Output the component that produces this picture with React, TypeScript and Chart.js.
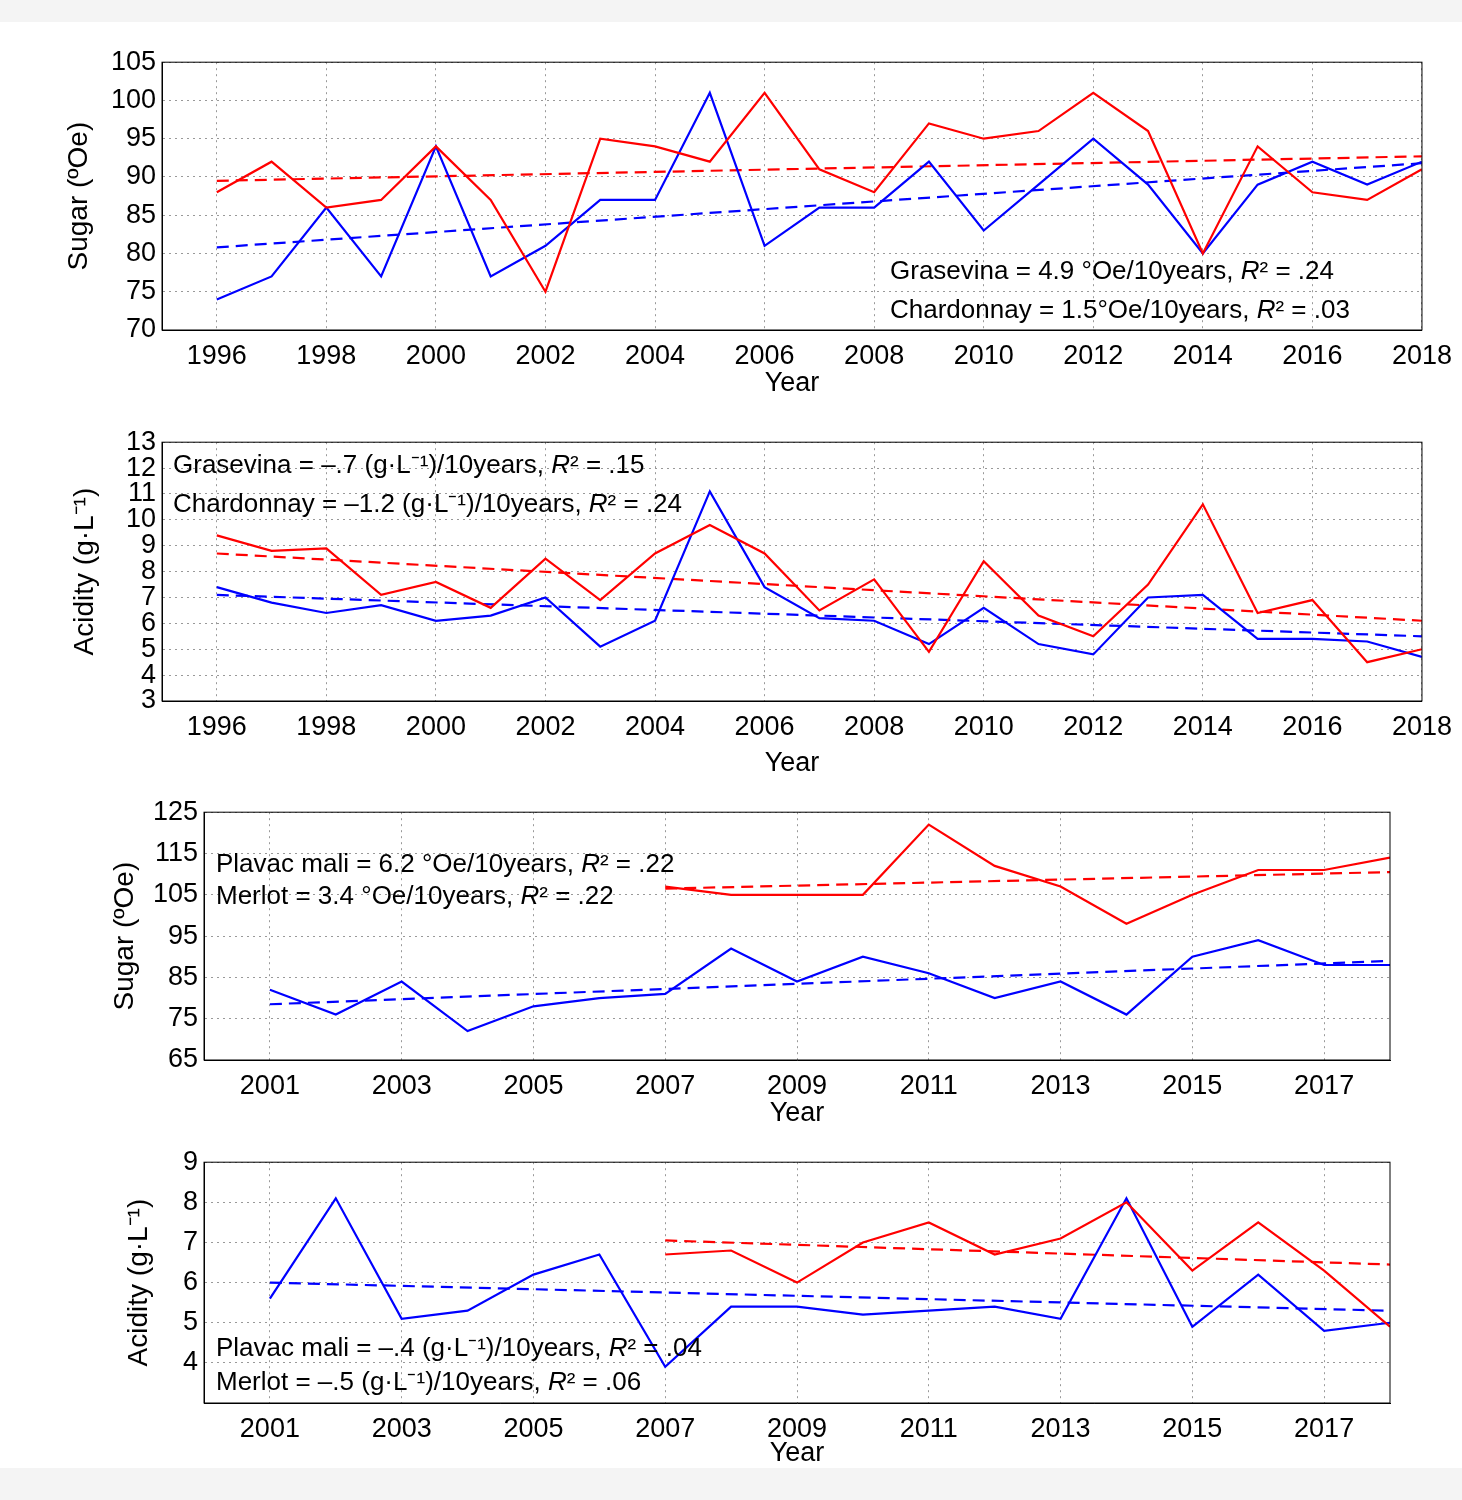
import React, { useEffect, useRef } from "react";
import { Chart, registerables } from "chart.js";
Chart.register(...registerables);

const years1 = [1996,1997,1998,1999,2000,2001,2002,2003,2004,2005,2006,2007,2008,2009,2010,2011,2012,2013,2014,2015,2016,2017,2018];
const sugarGrasevina = [74,77,86,77,94,77,81,87,87,101,81,86,86,92,83,89,95,89,80,89,92,89,92];
const sugarChardonnay = [88,92,86,87,94,87,75,95,94,92,101,91,88,97,95,96,101,96,80,94,88,87,91];
const acidGrasevina = [7.4,6.8,6.4,6.7,6.1,6.3,7.0,5.1,6.1,11.1,7.4,6.2,6.1,5.2,6.6,5.2,4.8,7.0,7.1,5.4,5.4,5.3,4.7];
const acidChardonnay = [9.4,8.8,8.9,7.1,7.6,6.6,8.5,6.9,8.7,9.8,8.7,6.5,7.7,4.9,8.4,6.3,5.5,7.5,10.6,6.4,6.9,4.5,5.0];
const years2 = [2001,2002,2003,2004,2005,2006,2007,2008,2009,2010,2011,2012,2013,2014,2015,2016,2017,2018];
const years3 = [2007,2008,2009,2010,2011,2012,2013,2014,2015,2016,2017,2018];
const sugarPlavac = [82,76,84,72,78,80,81,92,84,90,86,80,84,76,90,94,88,88];
const sugarMerlot = [107,105,105,105,122,112,107,98,105,111,111,114];
const acidPlavac = [5.6,8.1,5.1,5.3,6.2,6.7,3.9,5.4,5.4,5.2,5.3,5.4,5.1,8.1,4.9,6.2,4.8,5.0];
const acidMerlot = [6.7,6.8,6.0,7.0,7.5,6.7,7.1,8.0,6.3,7.5,6.3,4.9];
const trendSugarG = [80.8, 91.8];
const trendSugarC = [89.5, 92.7];
const trendAcidG = [7.1, 5.5];
const trendAcidC = [8.7, 6.1];
const trendSugarP = [78.5, 89];
const trendSugarM = [106.5, 110.5];
const trendAcidP = [6.0, 5.3];
const trendAcidM = [7.05, 6.45];
const ticks1 = [1996,1998,2000,2002,2004,2006,2008,2010,2012,2014,2016,2018];
const ticks2 = [2001,2003,2005,2007,2009,2011,2013,2015,2017];

type Seg = [string, boolean?];
type Panel = {
  top: number; height: number; padLeft: number; yW: number; right: number; padTop: number; xH: number;
  xmin: number; xmax: number; xticks: number[];
  ymin: number; ymax: number; ystep: number; hideMinLabel?: boolean;
  ytitle: string; series: { xs: number[]; ys: number[]; color: string; dash?: boolean }[];
  notes: { x: number; y: number; segs: Seg[] }[];
};

const FONT = "'Liberation Sans', Arial, sans-serif";
const pts = (xs: number[], ys: number[]) => xs.map((x, i) => ({ x, y: ys[i] }));

const panels: Panel[] = [
  {
    top: 40, height: 360, padLeft: 62, yW: 100, right: 37, padTop: 22, xH: 70,
    xmin: 1995, xmax: 2018, xticks: ticks1, ymin: 70, ymax: 105, ystep: 5,
    ytitle: "Sugar (ºOe)",
    series: [
      { xs: years1, ys: sugarChardonnay, color: "#ff0000" },
      { xs: years1, ys: sugarGrasevina, color: "#0000ff" },
      { xs: [1996, 2018], ys: trendSugarC, color: "#ff0000", dash: true },
      { xs: [1996, 2018], ys: trendSugarG, color: "#0000ff", dash: true },
    ],
    notes: [
      { x: 890, y: 279, segs: [["Grasevina = 4.9 °Oe/10years, "], ["R", true], ["² = .24"]] },
      { x: 890, y: 318, segs: [["Chardonnay = 1.5°Oe/10years, "], ["R", true], ["² = .03"]] },
    ],
  },
  {
    top: 420, height: 360, padLeft: 68, yW: 94, right: 37, padTop: 14, xH: 79,
    xmin: 1995, xmax: 2018, xticks: ticks1, ymin: 3, ymax: 13, ystep: 1,
    ytitle: "Acidity (g·L⁻¹)",
    series: [
      { xs: years1, ys: acidChardonnay, color: "#ff0000" },
      { xs: years1, ys: acidGrasevina, color: "#0000ff" },
      { xs: [1996, 2018], ys: trendAcidC, color: "#ff0000", dash: true },
      { xs: [1996, 2018], ys: trendAcidG, color: "#0000ff", dash: true },
    ],
    notes: [
      { x: 173, y: 473, segs: [["Grasevina = –.7 (g·L⁻¹)/10years, "], ["R", true], ["² = .15"]] },
      { x: 173, y: 512, segs: [["Chardonnay = –1.2 (g·L⁻¹)/10years, "], ["R", true], ["² = .24"]] },
    ],
  },
  {
    top: 790, height: 340, padLeft: 108, yW: 96, right: 72, padTop: 18, xH: 70,
    xmin: 2000, xmax: 2018, xticks: ticks2, ymin: 65, ymax: 125, ystep: 10,
    ytitle: "Sugar (ºOe)",
    series: [
      { xs: years3, ys: sugarMerlot, color: "#ff0000" },
      { xs: years2, ys: sugarPlavac, color: "#0000ff" },
      { xs: [2007, 2018], ys: trendSugarM, color: "#ff0000", dash: true },
      { xs: [2001, 2018], ys: trendSugarP, color: "#0000ff", dash: true },
    ],
    notes: [
      { x: 216, y: 872, segs: [["Plavac mali = 6.2 °Oe/10years, "], ["R", true], ["² = .22"]] },
      { x: 216, y: 904, segs: [["Merlot = 3.4 °Oe/10years, "], ["R", true], ["² = .22"]] },
    ],
  },
  {
    top: 1140, height: 330, padLeft: 122, yW: 82, right: 72, padTop: 18, xH: 67,
    xmin: 2000, xmax: 2018, xticks: ticks2, ymin: 3, ymax: 9, ystep: 1, hideMinLabel: true,
    ytitle: "Acidity (g·L⁻¹)",
    series: [
      { xs: years3, ys: acidMerlot, color: "#ff0000" },
      { xs: years2, ys: acidPlavac, color: "#0000ff" },
      { xs: [2007, 2018], ys: trendAcidM, color: "#ff0000", dash: true },
      { xs: [2001, 2018], ys: trendAcidP, color: "#0000ff", dash: true },
    ],
    notes: [
      { x: 216, y: 1356, segs: [["Plavac mali = –.4 (g·L⁻¹)/10years, "], ["R", true], ["² = .04"]] },
      { x: 216, y: 1390, segs: [["Merlot = –.5 (g·L⁻¹)/10years, "], ["R", true], ["² = .06"]] },
    ],
  },
];

function PanelChart({ p }: { p: Panel }) {
  const ref = useRef<HTMLCanvasElement>(null);
  useEffect(() => {
    const notesPlugin = {
      id: "notes",
      afterDraw(chart: any) {
        const ctx = chart.ctx;
        const a = chart.chartArea;
        ctx.save();
        ctx.strokeStyle = "#000";
        ctx.lineWidth = 1;
        ctx.strokeRect(a.left, a.top, a.right - a.left, a.bottom - a.top);
        ctx.fillStyle = "#000";
        ctx.textBaseline = "alphabetic";
        for (const n of p.notes) {
          let x = n.x;
          const y = n.y - p.top;
          for (const [t, it] of n.segs) {
            ctx.font = `${it ? "italic " : ""}26px ${FONT}`;
            ctx.fillText(t, x, y);
            x += ctx.measureText(t).width;
          }
        }
        ctx.restore();
      },
    };
    const chart = new Chart(ref.current!, {
      type: "line",
      data: {
        datasets: p.series.map((s) => ({
          data: pts(s.xs, s.ys),
          borderColor: s.color,
          borderWidth: 2.2,
          borderDash: s.dash ? [12, 7] : [],
          pointRadius: 0,
          tension: 0,
          fill: false,
        })),
      },
      options: {
        animation: false,
        responsive: false,
        maintainAspectRatio: false,
        layout: { padding: { top: p.padTop, right: p.right, left: p.padLeft, bottom: 0 } },
        plugins: { legend: { display: false }, tooltip: { enabled: false } },
        scales: {
          x: {
            type: "linear",
            min: p.xmin,
            max: p.xmax,
            afterBuildTicks: (s: any) => { s.ticks = p.xticks.map((v) => ({ value: v })); },
            afterFit: (s: any) => { s.height = p.xH; },
            ticks: { color: "#000", font: { size: 27, family: FONT }, maxRotation: 0, autoSkip: false, callback: (v: any) => String(v), padding: 10 },
            grid: { color: "#999", lineWidth: 1, drawTicks: false } as any,
            border: { display: true, color: "#000", dash: [2, 4] } as any,
            title: { display: true, text: "Year", color: "#000", font: { size: 27, family: FONT }, padding: 0 },
          },
          y: {
            min: p.ymin,
            max: p.ymax,
            afterFit: (s: any) => { s.width = p.yW; },
            ticks: {
              stepSize: p.ystep, autoSkip: false, color: "#000", font: { size: 27, family: FONT }, padding: 6,
              callback: (v: any) => (p.hideMinLabel && v === p.ymin ? "" : String(v)),
            },
            grid: { color: "#999", lineWidth: 1, drawTicks: false } as any,
            border: { display: true, color: "#000", dash: [2, 4] } as any,
            title: { display: true, text: p.ytitle, color: "#000", font: { size: 28, family: FONT }, padding: 0 },
          },
        },
      },
      plugins: [notesPlugin],
    } as any);
    return () => chart.destroy();
  }, []);
  return (
    <canvas
      ref={ref}
      width={1462}
      height={p.height}
      style={{ position: "absolute", left: 0, top: p.top, width: 1462, height: p.height }}
    />
  );
}

export default function App() {
  useEffect(() => {
    document.body.style.margin = "0";
  }, []);
  return (
    <div style={{ position: "relative", width: 1462, height: 1500, background: "#fff" }}>
      <div style={{ position: "absolute", left: 0, top: 0, width: 1462, height: 22, background: "#f4f4f4" }} />
      <div style={{ position: "absolute", left: 0, top: 1468, width: 1462, height: 32, background: "#f4f4f4" }} />
      {panels.map((p, i) => (
        <PanelChart key={i} p={p} />
      ))}
    </div>
  );
}
